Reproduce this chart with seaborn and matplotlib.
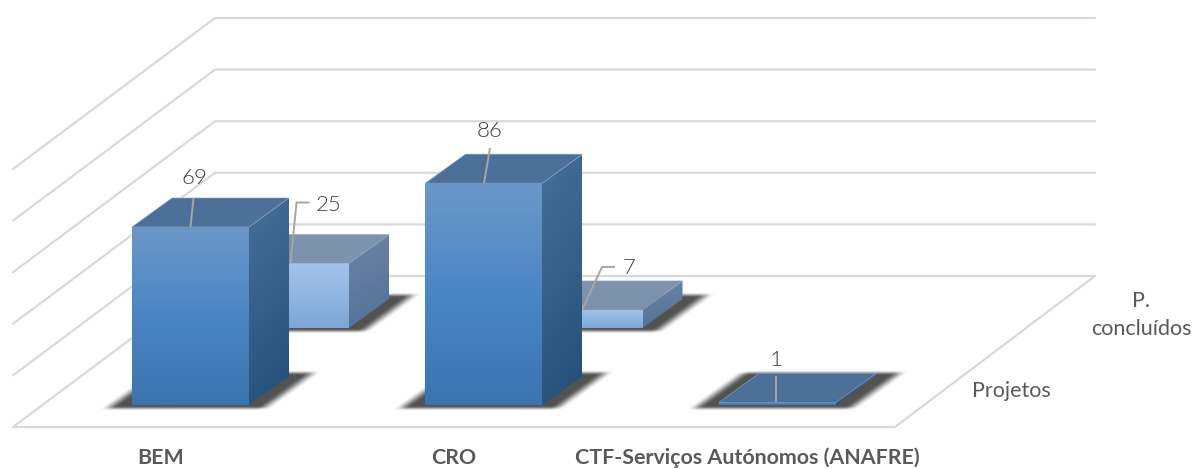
import numpy as np
import pandas as pd
import seaborn as sns
import matplotlib
matplotlib.use("Agg")
import matplotlib.pyplot as plt
from matplotlib.colors import LinearSegmentedColormap
from matplotlib.patches import Polygon

categorias = ["BEM", "CRO", "CTF-Serviços Autónomos (ANAFRE)"]
projetos = [69, 86, 1]
concluidos = [25, 7, np.nan]
series = ["Projetos", "P.\nconcluídos"]
grid_ticks = [0, 20, 40, 60, 80, 100]

W, H = 1196, 469
PX_X = 293.5    # pixels per category
PX_Y = 2.58     # pixels per value unit
X0, Y0 = 190.5, 405   # pixel of category 0 / value 0 in the front row
DEPTH = (40, 29)
ROW_SHIFT = (100, 77)

sns.set_theme(style="white")
plt.rcParams["font.family"] = ["Lato", "DejaVu Sans"]
fig = plt.figure(figsize=(W / 100, H / 100), dpi=100)


def make_axes(left=0, bottom=0, z=1):
    ax = fig.add_axes([left / W, bottom / H, 1, 1], zorder=z)
    ax.patch.set_visible(False)
    return ax


def set_limits(ax):
    ax.set_xlim(-X0 / PX_X, (W - X0) / PX_X)
    ax.set_ylim((Y0 - H) / PX_Y, Y0 / PX_Y)
    ax.set_axis_off()


def dx(px):
    return px / PX_X


def dy(px):
    return px / PX_Y


def gradient(ax, xy, colors, z, angle=0.0):
    # fill polygon with a top to bottom gradient
    xy = np.array(xy)
    poly = Polygon(xy, closed=True, fc="none", ec="none", zorder=z)
    ax.add_patch(poly)
    cmap = LinearSegmentedColormap.from_list("g", colors)
    yy, xx = np.mgrid[0:1:64j, 0:1:64j]
    im = ax.imshow(yy + angle * xx, cmap=cmap, vmin=0, vmax=1 + angle, aspect="auto",
                   extent=(xy[:, 0].min(), xy[:, 0].max(), xy[:, 1].min(), xy[:, 1].max()),
                   origin="upper", interpolation="bilinear", zorder=z)
    im.set_clip_path(poly)


def soft(d):
    d = np.clip(d, 0, 1)
    return 1 - d * d * (3 - 2 * d)


def shadow(ax, x0, x1):
    # soft dark shadow of the bar base, worked out in sheared floor coordinates
    a, b = dx(DEPTH[0]), dy(DEPTH[1])
    X, Y = np.meshgrid(np.linspace(x0 - dx(50), x1 + a + dx(50), 500),
                       np.linspace(-dy(10), b + dy(10), 100))
    u = (X - x0 - Y / b * a) * PX_X
    width = (x1 - x0) * PX_X
    du = np.maximum(-u, u - width) - 11
    dv = np.maximum(-Y, Y - b) * PX_Y - 1
    alpha = 0.85 * soft(du / 17) * soft(dv / 5)
    rgba = np.zeros(X.shape + (4,))
    rgba[..., :3] = 0.2
    rgba[..., 3] = alpha
    ax.imshow(rgba, extent=(X.min(), X.max(), Y.min(), Y.max()), origin="lower",
              aspect="auto", interpolation="bilinear", zorder=1)


def bars_3d(ax, values, front, side, top, labels):
    df = pd.DataFrame({"categoria": categorias, "valor": values}).dropna()
    sns.barplot(data=df, x="categoria", y="valor", order=categorias, width=117 / PX_X,
                color=front[0], saturation=1, ax=ax, zorder=5)
    a, b = dx(DEPTH[0]), dy(DEPTH[1])
    bars = [p for p in ax.patches if p.get_height() > 0]
    for p, (lx, ly, path) in zip(bars, labels):
        x0, x1, h = p.get_x(), p.get_x() + p.get_width(), p.get_height()
        p.set_edgecolor("none")
        shadow(ax, x0, x1)
        # side starts a little inside the front face so no seam shows
        inner = x1 - dx(2)
        gradient(ax, [(inner, 0), (x1, 0), (x1 + a, b), (x1 + a, h + b), (x1, h), (inner, h)],
                 side, 3, angle=0.25)
        ax.add_patch(Polygon([(x0, h), (x1, h), (x1 + a, h + b), (x0 + a, h + b)],
                             fc=top, ec="#8ea9c8", lw=0.4, zorder=4))
        gradient(ax, [(x0, 0), (x1, 0), (x1, h), (x0, h)], front, 6)
        xc = (x0 + x1) / 2
        ax.plot([xc + dx(q[0]) for q in path], [h + dy(q[1]) for q in path],
                color="#a6a6a6", lw=1.4, zorder=8, solid_capstyle="butt")
        ax.text(xc + dx(lx), h + dy(ly), f"{h:.0f}", ha="center", va="center",
                fontsize=16, color="#404040", fontweight=300, zorder=9)


# floor and walls
ax_grid = make_axes(z=0)
floor_l, floor_r = (13, 427), (895, 427)
back_l, back_r = (215, 276), (1095, 276)
px2x = lambda x: (x - X0) / PX_X
px2y = lambda y: (Y0 - y) / PX_Y
grid_style = dict(color="#d9d9d9", lw=1.6, solid_joinstyle="miter")
for v in grid_ticks:
    ax_grid.plot([px2x(floor_l[0]), px2x(back_l[0]), px2x(back_r[0])],
                 [px2y(floor_l[1]) + v, px2y(back_l[1]) + v, px2y(back_r[1]) + v], **grid_style)
ax_grid.plot([px2x(floor_l[0]), px2x(floor_r[0]), px2x(back_r[0])],
             [px2y(floor_l[1]), px2y(floor_r[1]), px2y(back_r[1])], **grid_style)
set_limits(ax_grid)

# rear row first, front row on top of it
ax_back = make_axes(ROW_SHIFT[0], ROW_SHIFT[1], z=1)
bars_3d(ax_back, concluidos,
        ["#a3c2ea", "#93b6e2", "#7fa5d4"],
        ["#6f85a3", "#4f7199"],
        "#7d92ad",
        [(38, 58, [(0, 0), (6, 61), (19, 61)]), (45, 42, [(-2, 0), (18, 43), (31, 43)])])
set_limits(ax_back)

ax_front = make_axes(z=2)
bars_3d(ax_front, projetos,
        ["#6b97c8", "#4a86c4", "#3a75b0"],
        ["#46709a", "#234e78"],
        "#4c7098",
        [(3.5, 49, [(0, 0), (3, 29)]), (5.5, 52, [(0, 0), (6, 35)]), (-1.5, 42, [(-1.5, 0), (-1.5, 26)])])
set_limits(ax_front)

# category and series labels
for i, c in enumerate(categorias):
    ax_front.text(i - dx(30), px2y(458), c, ha="center", va="center", fontsize=15.4,
                  fontweight="bold", color="#595959")
ax_front.text(px2x(1011), px2y(391), series[0], ha="center", va="center", fontsize=15.5, color="#595959")
ax_front.text(px2x(1141), px2y(315), series[1], ha="center", va="center", fontsize=15.5,
              color="#595959", linespacing=1.5)

fig.savefig("out.png", dpi=100, facecolor="white")
